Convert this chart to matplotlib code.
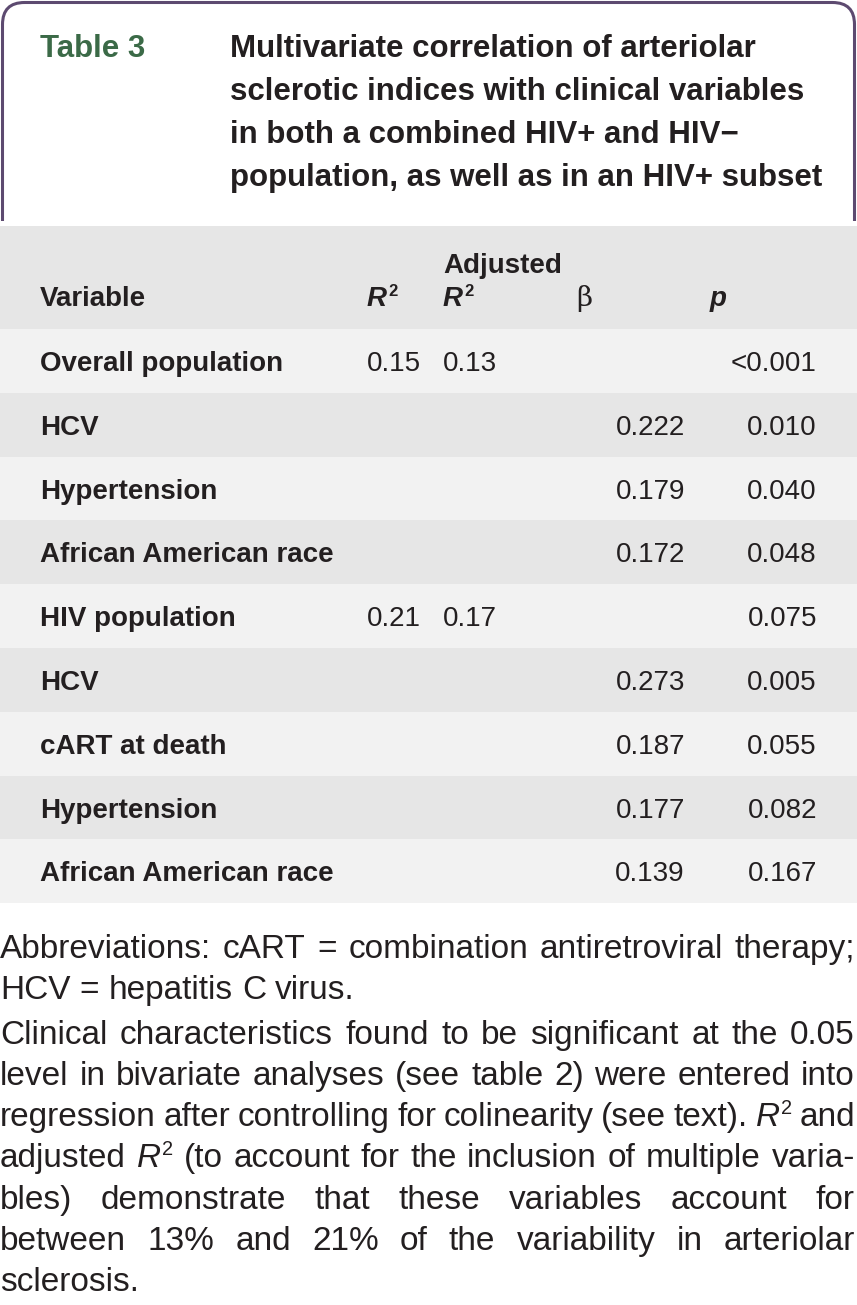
import matplotlib
matplotlib.use("Agg")
import matplotlib.pyplot as plt
from matplotlib.patches import FancyBboxPatch, Rectangle

# table contents
variables = ["Overall population", "HCV", "Hypertension", "African American race",
             "HIV population", "HCV", "cART at death", "Hypertension", "African American race"]
r2 = ["0.15", "", "", "", "0.21", "", "", "", ""]
adj_r2 = ["0.13", "", "", "", "0.17", "", "", "", ""]
beta = ["", "0.222", "0.179", "0.172", "", "0.273", "0.187", "0.177", "0.139"]
pvals = ["<0.001", "0.010", "0.040", "0.048", "0.075", "0.005", "0.055", "0.082", "0.167"]

title_label = "Table 3"
title_lines = ["Multivariate correlation of arteriolar",
               "sclerotic indices with clinical variables",
               "in both a combined HIV+ and HIV\u2212",
               "population, as well as in an HIV+ subset"]

# footnote paragraphs, line by line; R^2 marks italic R with superscript
note_paras = [
    ["Abbreviations: cART = combination antiretroviral therapy;",
     "HCV = hepatitis C virus."],
    ["Clinical characteristics found to be significant at the 0.05",
     "level in bivariate analyses (see table 2) were entered into",
     "regression after controlling for colinearity (see text). R^2 and",
     "adjusted R^2 (to account for the inclusion of multiple varia-",
     "bles) demonstrate that these variables account for",
     "between 13% and 21% of the variability in arteriolar",
     "sclerosis."],
]

FONT = "Liberation Sans"
TXT = "#231f20"
GREEN = "#3b6a47"
PURPLE = "#5d4a70"
LIGHT = "#f2f2f2"
DARK = "#e6e6e6"
FS = 20        # table text
TS = 22.5      # title
NS = 24        # footnote

fig = plt.figure(figsize=(8.57, 13.05), dpi=100)
ax = fig.add_axes([0, 0, 1, 1])
ax.set_xlim(0, 857)
ax.set_ylim(1305, 0)
ax.axis("off")
renderer = fig.canvas.get_renderer()


def put(x, y, s, size=FS, weight="normal", style="normal", color=TXT, ha="left", family=None):
    return ax.text(x, y, s, fontsize=size, fontweight=weight, fontstyle=style, color=color,
                   ha=ha, va="baseline", family=family or FONT)


def wid(t):
    return t.get_window_extent(renderer).width


def put_r2(x, y, size=FS, weight="normal"):
    # italic R with a small raised 2
    t = put(x, y, "R", size=size, weight=weight, style="italic")
    w = wid(t)
    t2 = put(x + w + 1, y - size * 0.5, "2", size=size * 0.6, weight=weight)
    return w + 1 + wid(t2)


# title box: rounded frame open at the bottom
box = FancyBboxPatch((2.5, 2.5), 852, 300, boxstyle="round,pad=0,rounding_size=22",
                     fc="white", ec=PURPLE, lw=2.2)
ax.add_patch(box)
box.set_clip_path(Rectangle((0, 0), 857, 221, transform=ax.transData))

put(40, 57, title_label, size=TS, weight="bold", color=GREEN)
for i, line in enumerate(title_lines):
    put(230, 57 + 43 * i, line, size=TS, weight="bold")

# header band
ax.add_patch(Rectangle((0, 226), 857, 103, fc=DARK, ec="none"))
put(40, 306, "Variable", weight="bold")
put_r2(367, 306, weight="bold")
put(443, 273, "Adjusted", weight="bold")
put_r2(443, 306, weight="bold")
put(576, 306, "\u03b2", family="DejaVu Serif")
put(710, 306, "p", weight="bold", style="italic")

# body rows
top = 329
rh = 63.8
for i, name in enumerate(variables):
    y0 = top + i * rh
    ax.add_patch(Rectangle((0, y0), 857, rh, fc=LIGHT if i % 2 == 0 else DARK, ec="none"))
    base = y0 + 42
    put(40, base, name, weight="bold")
    put(367, base, r2[i])
    put(443, base, adj_r2[i])
    put(685, base, beta[i], ha="right")
    put(817, base, pvals[i], ha="right")


# justified footnote
def word_width(w, size):
    if "R^2" in w:
        pre, post = w.split("R^2")
        tot = 0
        for s in (pre, post):
            if s:
                t = put(0, -100, s, size=size)
                tot += wid(t)
                t.remove()
        t = put(0, -100, "R", size=size, style="italic")
        tot += wid(t) + 1
        t.remove()
        t = put(0, -100, "2", size=size * 0.6)
        tot += wid(t)
        t.remove()
        return tot
    t = put(0, -100, w, size=size)
    v = wid(t)
    t.remove()
    return v


def draw_word(x, y, w, size):
    if "R^2" in w:
        pre, post = w.split("R^2")
        if pre:
            t = put(x, y, pre, size=size)
            x += wid(t)
        x += put_r2(x, y, size=size)
        if post:
            put(x, y, post, size=size)
        return
    put(x, y, w, size=size)


left, right = 0, 855
space = word_width("a b", NS) - word_width("ab", NS)
y = 958
for para in note_paras:
    for j, line in enumerate(para):
        words = line.split(" ")
        widths = [word_width(w, NS) for w in words]
        last = j == len(para) - 1
        if last or len(words) == 1:
            gap = space
        else:
            gap = (right - left - sum(widths)) / (len(words) - 1)
        x = left
        for w, ww in zip(words, widths):
            draw_word(x, y, w, NS)
            x += ww + gap
        y += 41.3
    y += 3

fig.savefig("out.png", dpi=100)
